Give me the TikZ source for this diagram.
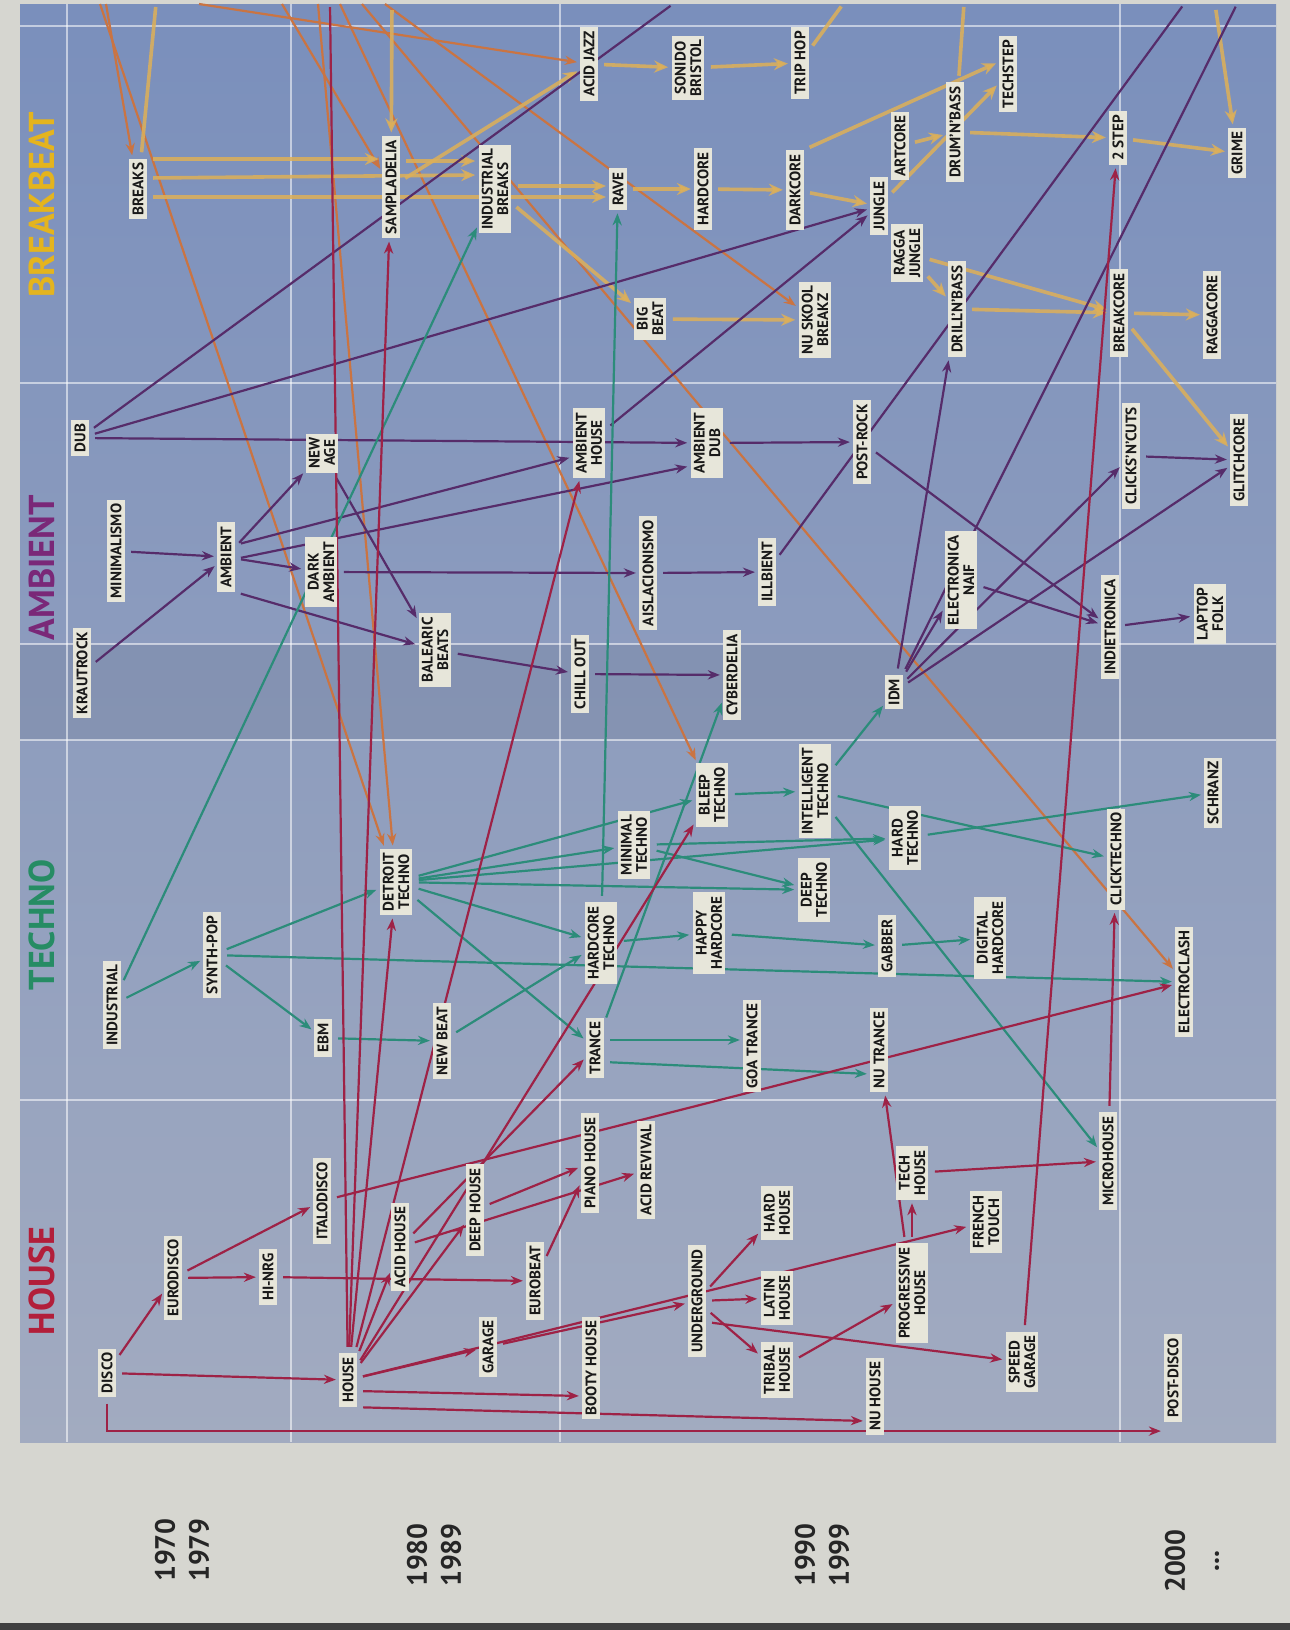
\documentclass[tikz,border=0pt]{standalone}
\usepackage{fontspec}
\setmainfont{PT Sans}
\usetikzlibrary{arrows.meta,calc}
\pgfdeclarelayer{background}
\pgfdeclarelayer{lines}
\pgfsetlayers{background,lines,main}
\definecolor{paper}{RGB}{214,214,208}
\definecolor{bgtop}{RGB}{122,143,188}
\definecolor{bgbot}{RGB}{162,171,192}
\definecolor{lblfill}{RGB}{231,230,218}
\definecolor{houseclr}{RGB}{158,34,70}
\definecolor{technoclr}{RGB}{44,140,122}
\definecolor{ambclr}{RGB}{86,44,106}
\definecolor{breakclr}{RGB}{222,176,88}
\definecolor{oldclr}{RGB}{202,116,66}
\definecolor{housettl}{RGB}{178,30,58}
\definecolor{technottl}{RGB}{38,140,100}
\definecolor{ambttl}{RGB}{122,40,120}
\definecolor{breakttl}{RGB}{228,180,30}
\newcommand{\lblfont}{\fontsize{7.6}{7.7}\selectfont\bfseries}
\newcommand{\ttlfont}{\fontsize{18}{18}\selectfont\bfseries}
\newcommand{\yearfont}{\fontsize{14}{17}\selectfont\bfseries}
\begin{document}
\begin{tikzpicture}[x=0.5pt, y=-0.5pt, line join=round, line cap=round, >={Stealth[length=6pt,width=4.6pt]},
  genre/.style={rotate=90, fill=lblfill, text=black!90, font=\lblfont, align=center, inner xsep=2pt, inner ysep=1.6pt},
  category/.style={rotate=90, font=\ttlfont},
  decade/.style={rotate=90, font=\yearfont, align=center, text=black!85},
  houseline/.style={->, houseclr, line width=1.1pt, shorten <=3pt, shorten >=1.5pt},
  technoline/.style={->, technoclr, line width=1.1pt, shorten <=3pt, shorten >=1.5pt},
  ambline/.style={->, ambclr, line width=1.1pt, shorten <=3pt, shorten >=1.5pt},
  breakline/.style={->, breakclr, line width=1.8pt, opacity=0.85, >={Stealth[length=7pt,width=6pt]}, shorten <=3pt, shorten >=1.5pt},
  oldline/.style={->, oldclr, line width=1.1pt, shorten >=1.5pt},
  gridline/.style={white, opacity=0.55, line width=0.8pt}]
\useasboundingbox (0,0) rectangle (1290,1630);
\begin{pgfonlayer}{background}
\fill[paper] (0,0) rectangle (1290,1630);
\fill[black!75] (0,1623) rectangle (1290,1630);
\shade[top color=bgtop, bottom color=bgbot] (20,4) rectangle (1276,1442);
\fill[black, opacity=0.06] (20,644) rectangle (1276,740);
\foreach \y in {26,383,644,740,1100} \draw[gridline] (20,\y) -- (1276,\y);
\foreach \x in {67,291,560,1120} \draw[gridline] (\x,4) -- (\x,1442);
\end{pgfonlayer}

\node[category, text=breakttl] (ttlbreak) at (42,205) {BREAKBEAT};
\node[category, text=ambttl] (ttlamb) at (42,568) {AMBIENT};
\node[category, text=technottl] (ttltechno) at (42,925) {TECHNO};
\node[category, text=housettl] (ttlhouse) at (42,1281) {HOUSE};

\node[decade] (y70) at (182,1550) {1970\\1979};
\node[decade] (y80) at (434,1555) {1980\\1989};
\node[decade] (y90) at (822,1555) {1990\\1999};
\node[decade] (y00) at (1192,1561) {2000\\...};

\node[genre] (breaks) at (138,189) {BREAKS};
\node[genre] (sampla) at (391,187) {SAMPLADELIA};
\node[genre] (indbreaks) at (495,189) {INDUSTRIAL\\BREAKS};
\node[genre] (acidjazz) at (589,64) {ACID JAZZ};
\node[genre] (sonido) at (688,68) {SONIDO\\BRISTOL};
\node[genre] (triphop) at (800,63) {TRIP HOP};
\node[genre] (rave) at (618,189) {RAVE};
\node[genre] (hardcore) at (703,189) {HARDCORE};
\node[genre] (darkcore) at (795,190) {DARKCORE};
\node[genre] (bigbeat) at (650,319) {BIG\\BEAT};
\node[genre] (nuskool) at (815,320) {NU SKOOL\\BREAKZ};
\node[genre] (jungle) at (879,206) {JUNGLE};
\node[genre] (artcore) at (900,146) {ARTCORE};
\node[genre] (raggajungle) at (907,253) {RAGGA\\JUNGLE};
\node[genre] (dnb) at (955,132) {DRUM'N'BASS};
\node[genre] (techstep) at (1008,74) {TECHSTEP};
\node[genre] (twostep) at (1118,138) {2 STEP};
\node[genre] (grime) at (1237,153) {GRIME};
\node[genre] (drillnbass) at (957,309) {DRILL'N'BASS};
\node[genre] (breakcore) at (1119,313) {BREAKCORE};
\node[genre] (raggacore) at (1212,315) {RAGGACORE};

\node[genre] (dub) at (80,438) {DUB};
\node[genre] (newage) at (322,453) {NEW\\AGE};
\node[genre] (ambhouse) at (589,443) {AMBIENT\\HOUSE};
\node[genre] (ambdub) at (707,443) {AMBIENT\\DUB};
\node[genre] (postrock) at (862,442) {POST-ROCK};
\node[genre] (clicks) at (1131,456) {CLICKS'N'CUTS};
\node[genre] (glitch) at (1239,460) {GLITCHCORE};
\node[genre] (krautrock) at (82,673) {KRAUTROCK};
\node[genre] (minimalismo) at (116,551) {MINIMALISMO};
\node[genre] (ambient) at (226,557) {AMBIENT};
\node[genre] (darkamb) at (321,572) {DARK\\AMBIENT};
\node[genre] (balearic) at (435,650) {BALEARIC\\BEATS};
\node[genre] (aisla) at (648,573) {AISLACIONISMO};
\node[genre] (illbient) at (767,572) {ILLBIENT};
\node[genre] (chillout) at (580,674) {CHILL OUT};
\node[genre] (cyberdelia) at (732,675) {CYBERDELIA};
\node[genre] (elnaif) at (961,580) {ELECTRONICA\\NAIF};
\node[genre] (idm) at (894,692) {IDM};
\node[genre] (indietronica) at (1110,627) {INDIETRONICA};
\node[genre] (laptop) at (1210,614) {LAPTOP\\FOLK};

\node[genre] (industrial) at (112,1005) {INDUSTRIAL};
\node[genre] (synthpop) at (212,955) {SYNTH-POP};
\node[genre] (ebm) at (323,1038) {EBM};
\node[genre] (detroit) at (396,882) {DETROIT\\TECHNO};
\node[genre] (newbeat) at (442,1041) {NEW BEAT};
\node[genre] (bleep) at (712,795) {BLEEP\\TECHNO};
\node[genre] (intelligent) at (815,791) {INTELLIGENT\\TECHNO};
\node[genre] (minimal) at (634,845) {MINIMAL\\TECHNO};
\node[genre] (deeptechno) at (814,890) {DEEP\\TECHNO};
\node[genre] (hardcoretechno) at (601,943) {HARDCORE\\TECHNO};
\node[genre] (happy) at (709,933) {HAPPY\\HARDCORE};
\node[genre] (trance) at (595,1048) {TRANCE};
\node[genre] (goa) at (752,1046) {GOA TRANCE};
\node[genre] (nutrance) at (879,1050) {NU TRANCE};
\node[genre] (hardtechno) at (905,838) {HARD\\TECHNO};
\node[genre] (schranz) at (1213,793) {SCHRANZ};
\node[genre] (clicktechno) at (1116,859) {CLICKTECHNO};
\node[genre] (gabber) at (887,946) {GABBER};
\node[genre] (digital) at (990,938) {DIGITAL\\HARDCORE};
\node[genre] (electroclash) at (1184,982) {ELECTROCLASH};

\node[genre] (disco) at (107,1373) {DISCO};
\node[genre] (eurodisco) at (173,1278) {EURODISCO};
\node[genre] (hinrg) at (268,1277) {HI-NRG};
\node[genre] (italodisco) at (322,1201) {ITALODISCO};
\node[genre] (house) at (348,1380) {HOUSE};
\node[genre] (acidhouse) at (400,1247) {ACID HOUSE};
\node[genre] (deephouse) at (475,1210) {DEEP HOUSE};
\node[genre] (pianohouse) at (590,1163) {PIANO HOUSE};
\node[genre] (acidrevival) at (646,1170) {ACID REVIVAL};
\node[genre] (eurobeat) at (535,1281) {EUROBEAT};
\node[genre] (garage) at (488,1347) {GARAGE};
\node[genre] (booty) at (591,1368) {BOOTY HOUSE};
\node[genre] (underground) at (697,1301) {UNDERGROUND};
\node[genre] (hardhouse) at (777,1213) {HARD\\HOUSE};
\node[genre] (latinhouse) at (777,1298) {LATIN\\HOUSE};
\node[genre] (tribal) at (777,1370) {TRIBAL\\HOUSE};
\node[genre] (nuhouse) at (875,1396) {NU HOUSE};
\node[genre] (techhouse) at (912,1173) {TECH\\HOUSE};
\node[genre] (proghouse) at (912,1293) {PROGRESSIVE\\HOUSE};
\node[genre] (french) at (986,1222) {FRENCH\\TOUCH};
\node[genre] (speedgarage) at (1022,1362) {SPEED\\GARAGE};
\node[genre] (microhouse) at (1108,1161) {MICROHOUSE};
\node[genre] (postdisco) at (1173,1378) {POST-DISCO};

\coordinate (cutdetroitw) at (100,4);
\coordinate (cutbreaks) at (106,4);
\coordinate (cutbreaksy) at (156,4);
\coordinate (cutacidjazz) at (199,4);
\coordinate (cutsampla) at (282,4);
\coordinate (cutdetroite) at (318,4);
\coordinate (cuthouse) at (330,4);
\coordinate (cutbleep) at (340,4);
\coordinate (cutelectro) at (362,4);
\coordinate (cutnuskool) at (385,4);
\coordinate (cutsamplay) at (392,4);
\coordinate (cutdub) at (673,4);
\coordinate (cuttriphop) at (843,4);
\coordinate (cutdnb) at (964,4);
\coordinate (cutillbient) at (1184,4);
\coordinate (cutgrime) at (1215,4);
\coordinate (cutidm) at (1237,4);

\begin{pgfonlayer}{lines}
\foreach \a/\b in {cutdetroitw/detroit, cutbreaks/breaks, cutacidjazz/acidjazz, cutsampla/sampla, cutdetroite/detroit, cutbleep/bleep, cutelectro/electroclash, cutnuskool/nuskool}
  \draw[oldline] (\a) -- (\b);

\foreach \a/\b in {sampla/acidjazz, acidjazz/sonido, sonido/triphop, rave/hardcore, hardcore/darkcore, darkcore/jungle, jungle/techstep, artcore/dnb, dnb/twostep, twostep/grime, raggajungle/drillnbass, raggajungle/breakcore, drillnbass/breakcore, breakcore/raggacore, breakcore/glitch, indbreaks/bigbeat, bigbeat/nuskool}
  \draw[breakline] (\a) -- (\b);
\draw[breakline] (breaks.south |- 0,159) -- (sampla.north |- 0,159);
\draw[breakline] (breaks.south |- 0,178) -- (indbreaks.north |- 0,175);
\draw[breakline] (breaks.south |- 0,197) -- (rave.north |- 0,197);
\draw[breakline] (sampla.south |- 0,161) -- (indbreaks.north |- 0,161);
\draw[breakline] (indbreaks.south |- 0,186) -- (rave.north |- 0,186);
\draw[breakline] (darkcore.south east) -- (techstep.north |- 0,62);
\draw[breakline,-] (triphop) -- (cuttriphop);
\draw[breakline,-] (dnb) -- (cutdnb);
\draw[breakline,-] (breaks) -- (cutbreaksy);
\draw[breakline] (cutgrime) -- (grime);
\draw[breakline] (cutsamplay) -- (sampla);

\foreach \a/\b in {krautrock/ambient, minimalismo/ambient, ambient/newage, ambient/darkamb, dub/ambdub, dub/jungle, newage/balearic, darkamb/aisla, aisla/illbient, balearic/chillout, chillout/cyberdelia, ambdub/postrock, ambhouse/jungle, idm/drillnbass, idm/elnaif, idm/clicks, idm/glitch, postrock/indietronica, elnaif/indietronica, indietronica/laptop, clicks/glitch}
  \draw[ambline] (\a) -- (\b);
\draw[ambline] (ambient.south west) -- (balearic);
\draw[ambline] ($(ambient.south)+(0,-12)$) -- (ambhouse.north |- 0,457);
\draw[ambline] ($(ambient.south)+(0,2)$) -- (ambdub.north |- 0,466);
\draw[ambline,-] (dub) -- (cutdub);
\draw[ambline,-] (illbient) -- (cutillbient);
\draw[ambline,-] (idm) -- (cutidm);

\foreach \a/\b in {industrial/synthpop, industrial/indbreaks, synthpop/detroit, synthpop/ebm, synthpop/electroclash, ebm/newbeat, newbeat/hardcoretechno, detroit/bleep, detroit/minimal, detroit/hardtechno, detroit/deeptechno, detroit/hardcoretechno, detroit/trance, minimal/hardtechno, minimal/deeptechno, hardcoretechno/rave, hardcoretechno/happy, happy/gabber, gabber/digital, trance/cyberdelia, bleep/intelligent, intelligent/idm, intelligent/clicktechno, intelligent/microhouse, hardtechno/schranz}
  \draw[technoline] (\a) -- (\b);
\draw[technoline] (trance.south |- 0,1040) -- (goa.north |- 0,1040);
\draw[technoline] ($(trance.south)+(0,14)$) -- ($(nutrance.north)+(0,24)$);

\foreach \a/\b in {disco/eurodisco, disco/house, eurodisco/hinrg, eurodisco/italodisco, hinrg/eurobeat, italodisco/electroclash, house/sampla, house/detroit, house/ambhouse, house/bleep, house/acidhouse, house/deephouse, house/garage, house/french, acidhouse/trance, acidhouse/acidrevival, deephouse/pianohouse, eurobeat/pianohouse, garage/underground, underground/hardhouse, underground/latinhouse, underground/tribal, tribal/proghouse, proghouse/techhouse, proghouse/nutrance, techhouse/microhouse, microhouse/clicktechno, speedgarage/twostep}
  \draw[houseline] (\a) -- (\b);
\draw[houseline] (disco.west) |- ($(postdisco.north west)+(0,9)$);
\draw[houseline] ($(house.south)+(0,11)$) -- ($(booty.north)+(0,28)$);
\draw[houseline] (house.south west) -- ($(nuhouse.north)+(0,25)$);
\draw[houseline] ($(underground.south)+(0,21)$) -- (speedgarage);
\draw[houseline,-] (house) -- (cuthouse);
\end{pgfonlayer}
\end{tikzpicture}
\end{document}
